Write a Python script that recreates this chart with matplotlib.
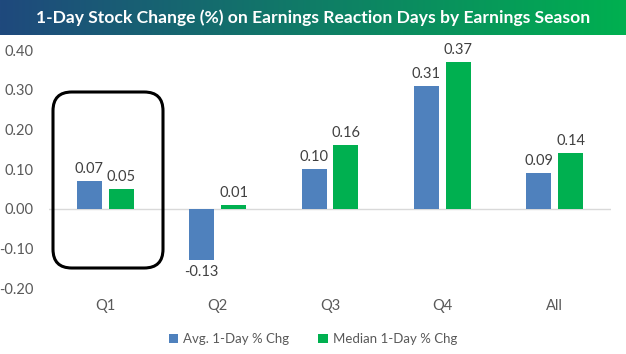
import numpy as np
import matplotlib
matplotlib.use("Agg")
import matplotlib.pyplot as plt
from matplotlib.patches import FancyBboxPatch
from matplotlib.colors import LinearSegmentedColormap

seasons = ['Q1', 'Q2', 'Q3', 'Q4', 'All']
avg_chg = [0.07, -0.13, 0.10, 0.31, 0.09]
median_chg = [0.05, 0.01, 0.16, 0.37, 0.14]
yticks = [-0.20, -0.10, 0.00, 0.10, 0.20, 0.30, 0.40]

blue = '#4F81BD'
green = '#00B050'
grey = '#595959'
plt.rcParams['font.family'] = ['Lato', 'DejaVu Sans']

W, H = 626, 354
fig = plt.figure(figsize=(W / 100, H / 100), dpi=100)

# title band with gradient
tax = fig.add_axes([0, 1 - 35 / H, 1, 35 / H])
cmap = LinearSegmentedColormap.from_list('band', ['#1F497D', '#00B050'])
tax.imshow(np.linspace(0, 1, 256).reshape(1, -1), aspect='auto', cmap=cmap,
           extent=[0, 1, 0, 1])
tax.set_axis_off()
tax.text(0.5, 0.5, '1-Day Stock Change (%) on Earnings Reaction Days by Earnings Season',
         color='white', fontsize=12.6, fontweight='bold', ha='center', va='center')

ax = fig.add_axes([49 / W, 1 - 288 / H, (611 - 49) / W, (288 - 50) / H])
x = np.arange(len(seasons))
w = 0.222
off = 0.142
b1 = ax.bar(x - off, avg_chg, w, color=blue, label='Avg. 1-Day % Chg', zorder=3)
b2 = ax.bar(x + off, median_chg, w, color=green, label='Median 1-Day % Chg', zorder=3)

for bars, vals in ((b1, avg_chg), (b2, median_chg)):
    for b, v in zip(bars, vals):
        if v >= 0:
            ax.text(b.get_x() + b.get_width() / 2, v + 0.012, f'{v:.2f}',
                    ha='center', va='bottom', color='#404040', fontsize=10.5)
        else:
            ax.text(b.get_x() + b.get_width() / 2, v - 0.012, f'{v:.2f}',
                    ha='center', va='top', color='#404040', fontsize=10.5)

ax.set_xlim(-0.5, len(seasons) - 0.5)
ax.set_ylim(-0.2, 0.4)
ax.set_yticks(yticks)
ax.set_yticklabels([f'{t:.2f}' for t in yticks])
ax.set_xticks(x)
ax.set_xticklabels(seasons)
ax.tick_params(length=0, colors=grey, labelsize=10.5)
ax.tick_params(axis='y', pad=11)
ax.tick_params(axis='x', pad=8)
for s in ax.spines.values():
    s.set_visible(False)
ax.axhline(0, color='#D9D9D9', lw=1, zorder=2)

leg = fig.legend(loc='center', bbox_to_anchor=(0.5, 1 - 339 / H), ncol=2, frameon=False,
                 fontsize=9.5, handlelength=0.7, handleheight=0.7, handletextpad=0.4,
                 columnspacing=2.2)
for t in leg.get_texts():
    t.set_color(grey)

# rounded highlight box around Q1
box = FancyBboxPatch((53 / W, 1 - 268 / H), 110 / W, 176 / H,
                     boxstyle='round,pad=0,rounding_size=0.03',
                     mutation_aspect=W / H, transform=fig.transFigure,
                     fill=False, edgecolor='black', lw=2.2, zorder=10)
fig.patches.append(box)

fig.savefig('out.png', dpi=100)
